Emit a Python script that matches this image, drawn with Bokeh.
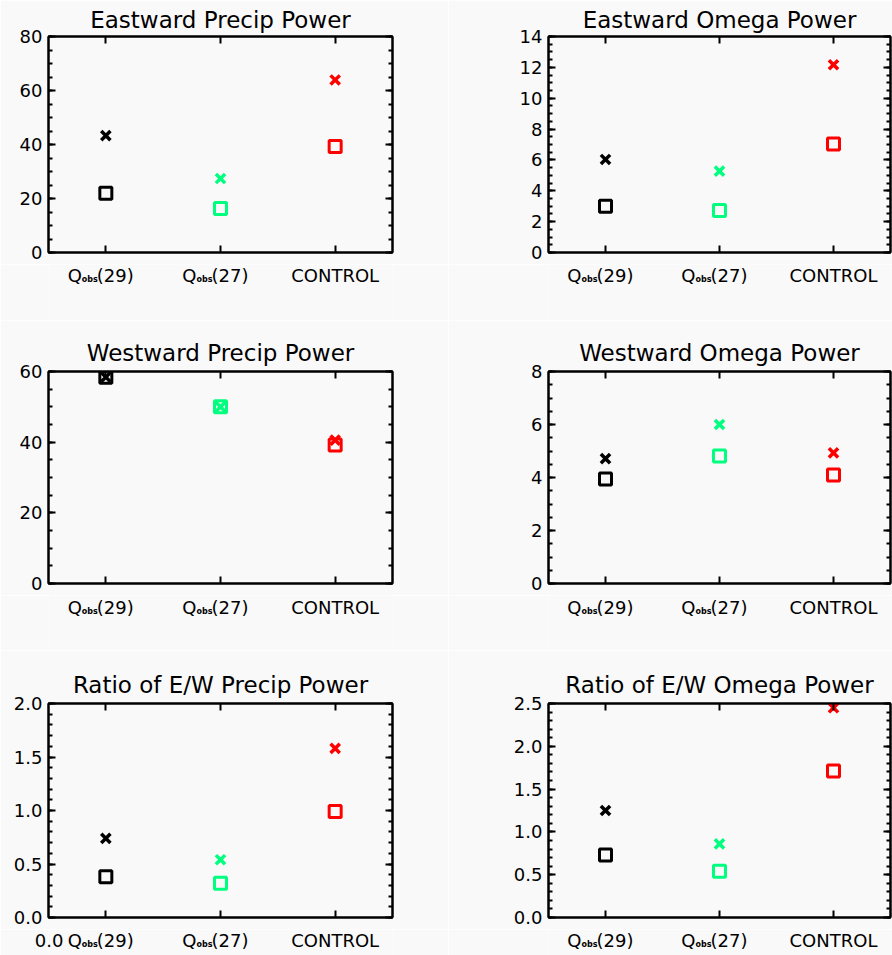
from bokeh.plotting import figure
from bokeh.layouts import gridplot
from bokeh.models import (Range1d, LinearAxis, FixedTicker, SingleIntervalTicker,
                          NumeralTickFormatter, CustomJSTickFormatter, ColumnDataSource)
from bokeh.core.properties import value
from bokeh.embed import file_html
from bokeh.resources import INLINE

# ---------------- data ----------------
positions = [1, 2, 3]
label_main = ["Q", "Q", "CONTROL"]
label_sub = ["obs", "obs", ""]
label_tail = ["(29)", "(27)", ""]
colors = ["black", "#00ff7f", "red"]

east_precip_x = [43.3, 27.4, 63.9]
east_precip_sq = [21.9, 16.3, 39.3]
east_omega_x = [6.03, 5.27, 12.17]
east_omega_sq = [3.0, 2.73, 7.03]
west_precip_x = [58.4, 50.0, 40.6]
west_precip_sq = [58.4, 50.0, 39.2]
west_omega_x = [4.71, 6.0, 4.93]
west_omega_sq = [3.94, 4.81, 4.09]
ratio_precip_x = [0.74, 0.54, 1.58]
ratio_precip_sq = [0.38, 0.32, 0.99]
ratio_omega_x = [1.25, 0.86, 2.45]
ratio_omega_sq = [0.73, 0.54, 1.71]

titles = ["Eastward Precip Power", "Eastward Omega Power",
          "Westward Precip Power", "Westward Omega Power",
          "Ratio of E/W Precip Power", "Ratio of E/W Omega Power"]
y_tops = [80, 14, 60, 8, 2.0, 2.5]
y_steps = [20, 2, 20, 2, 0.5, 0.5]
y_minor = [4, 4, 4, 4, 5, 5]
y_formats = ["0", "0", "0", "0", "0.0", "0.0"]
corner_label = "0.0"

FONT = "DejaVu Sans"
BG = "#f9f9f9"


def blank():
    return CustomJSTickFormatter(code="return ''")


def make_panel(k, xvals, sqvals, width, height, bl, br, bt, bb, standoff):
    p = figure(width=width, height=height, output_backend="svg", toolbar_location=None,
               x_range=Range1d(0.5, 3.5), y_range=Range1d(0, y_tops[k]),
               x_axis_location=None, y_axis_location=None,
               min_border_left=bl, min_border_right=br, min_border_top=bt, min_border_bottom=bb,
               background_fill_color=BG, border_fill_color=BG)
    p.outline_line_color = "black"
    p.outline_line_width = 2
    p.grid.visible = False

    p.title.text = titles[k]
    p.title.align = "center"
    p.title.text_font = FONT
    p.title.text_font_size = "23px"
    p.title.text_font_style = "normal"
    p.title.text_color = "black"
    p.title.standoff = standoff

    def style(ax, labels=True):
        ax.axis_line_color = "black"
        ax.axis_line_width = 2
        ax.major_tick_in = 7
        ax.major_tick_out = 0
        ax.minor_tick_in = 4
        ax.minor_tick_out = 0
        ax.major_tick_line_width = 2
        ax.minor_tick_line_width = 2
        ax.major_tick_line_color = "black"
        ax.minor_tick_line_color = "black"
        if labels:
            ax.major_label_text_font = FONT
            ax.major_label_text_font_size = "18px"
            ax.major_label_text_color = "black"
            ax.major_label_standoff = 6
        else:
            ax.formatter = blank()
            ax.major_label_text_font_size = "1px"
            ax.major_label_standoff = 0

    left = LinearAxis(ticker=SingleIntervalTicker(interval=y_steps[k], num_minor_ticks=y_minor[k]),
                      formatter=NumeralTickFormatter(format=y_formats[k]))
    style(left)
    p.add_layout(left, "left")
    right = LinearAxis(ticker=SingleIntervalTicker(interval=y_steps[k], num_minor_ticks=y_minor[k]))
    style(right, labels=False)
    p.add_layout(right, "right")
    bottom = LinearAxis(ticker=FixedTicker(ticks=positions, minor_ticks=[]))
    style(bottom, labels=False)
    p.add_layout(bottom, "below")
    top = LinearAxis(ticker=FixedTicker(ticks=positions, minor_ticks=[]))
    style(top, labels=False)
    p.add_layout(top, "above")

    src_sq = ColumnDataSource(dict(x=positions, y=sqvals, c=colors))
    src_x = ColumnDataSource(dict(x=positions, y=xvals, c=colors))
    p.scatter("x", "y", source=src_sq, marker="square", size=12, fill_color=None,
              line_color="c", line_width=3)
    p.scatter("x", "y", source=src_x, marker="x", size=13, line_color="c", line_width=3.5)
    return p


def make_strip(width, height, ymid, extra=None):
    # label strip under a panel; gridplot aligns its frame with the panel's frame
    s = figure(width=width, height=height, output_backend="svg", toolbar_location=None,
               x_range=Range1d(0.5, 3.5), y_range=Range1d(height, 0),
               x_axis_location=None, y_axis_location=None,
               min_border_left=0, min_border_right=0, min_border_top=0, min_border_bottom=0,
               background_fill_color=BG, border_fill_color=BG)
    s.outline_line_color = None
    s.grid.visible = False
    main_x = [pos for pos, sub in zip(positions, label_sub) if sub]
    n = len(main_x)
    s.text(x=main_x, y=[ymid] * n, text=[m for m, sub in zip(label_main, label_sub) if sub],
           text_align="right", text_baseline="middle", x_offset=-24,
           text_font=value(FONT), text_font_size="18px", text_color="black")
    s.text(x=main_x, y=[ymid + 4] * n, text=[sub for sub in label_sub if sub],
           text_align="left", text_baseline="middle", x_offset=-24,
           text_font=value(FONT), text_font_size="8px", text_font_style="bold", text_color="black")
    s.text(x=main_x, y=[ymid] * n, text=[t for t in label_tail if t],
           text_align="left", text_baseline="middle", x_offset=-9,
           text_font=value(FONT), text_font_size="18px", text_color="black")
    plain_x = [pos for pos, sub in zip(positions, label_sub) if not sub]
    s.text(x=plain_x, y=[ymid] * len(plain_x),
           text=[m for m, sub in zip(label_main, label_sub) if not sub],
           text_align="center", text_baseline="middle",
           text_font=value(FONT), text_font_size="18px", text_color="black")
    if extra:
        ax = LinearAxis(ticker=FixedTicker(ticks=[ymid], minor_ticks=[]),
                        formatter=CustomJSTickFormatter(code="return '%s'" % extra))
        ax.axis_line_color = None
        ax.major_tick_line_color = None
        ax.minor_tick_line_color = None
        ax.major_tick_in = 0
        ax.major_tick_out = 0
        ax.major_label_standoff = -15
        ax.major_label_text_font = FONT
        ax.major_label_text_font_size = "18px"
        ax.major_label_text_color = "black"
        s.add_layout(ax, "left")
    return s


LW, RW = 448, 444
LBL, LBR = 48, 56
RBL, RBR = 100, 2

p1 = make_panel(0, east_precip_x, east_precip_sq, LW, 264, LBL, LBR, 36, 12, 7)
p2 = make_panel(1, east_omega_x, east_omega_sq, RW, 264, RBL, RBR, 36, 12, 7)
s1 = make_strip(LW, 56, 11)
s2 = make_strip(RW, 56, 11)

p3 = make_panel(2, west_precip_x, west_precip_sq, LW, 275, LBL, LBR, 51, 12, 11)
p4 = make_panel(3, west_omega_x, west_omega_sq, RW, 275, RBL, RBR, 51, 12, 11)
s3 = make_strip(LW, 55, 12)
s4 = make_strip(RW, 55, 12)

p5 = make_panel(4, ratio_precip_x, ratio_precip_sq, LW, 279, LBL, LBR, 53, 12, 11)
p6 = make_panel(5, ratio_omega_x, ratio_omega_sq, RW, 279, RBL, RBR, 53, 12, 11)
s5 = make_strip(LW, 26, 11, extra=corner_label)
s6 = make_strip(RW, 26, 11)

p = gridplot([[p1, p2], [s1, s2], [p3, p4], [s3, s4], [p5, p6], [s5, s6]],
             toolbar_location=None)

open("out.html", "w").write(file_html(p, INLINE))
